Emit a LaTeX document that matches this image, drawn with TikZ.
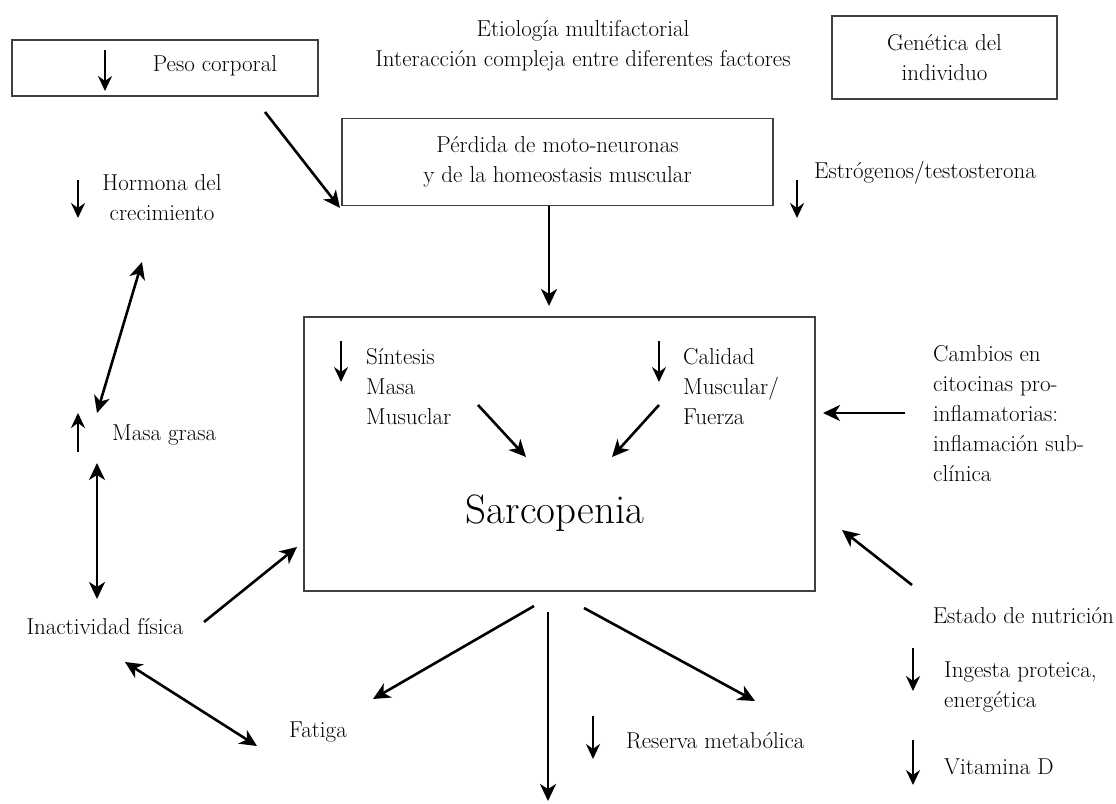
\documentclass[tikz,border=0pt]{standalone}
\usetikzlibrary{arrows.meta}
\begin{document}
\begin{tikzpicture}[x=1pt,y=-1pt,
  txt/.style={inner sep=0pt,font=\fontsize{23}{30}\selectfont,text=black},
  box/.style={draw=black!75,line width=1.8pt,inner sep=0pt},
  arr/.style={line width=2.6pt,-{Stealth[length=17pt,width=16pt,inset=5pt]}},
  darr/.style={line width=2.6pt,{Stealth[length=17pt,width=16pt,inset=5pt]}-{Stealth[length=17pt,width=16pt,inset=5pt]}},
  sarr/.style={line width=2.4pt,-{Stealth[length=15pt,width=14pt,inset=5pt]}}]
\useasboundingbox (0,0) rectangle (1116,803);
\fill[white] (0,0) rectangle (1116,803);

% boxes
\node[box,minimum width=306pt,minimum height=56pt] (peso) at (165,68) {};
\node[box,minimum width=225pt,minimum height=83pt,txt,align=center] (genet) at (944.5,57.5) {Genética del\\individuo};
\node[box,minimum width=431pt,minimum height=87pt,txt,align=center] (perdida) at (557.5,162) {Pérdida de moto-neuronas\\y de la homeostasis muscular};
\node[box,minimum width=511pt,minimum height=274pt] (sarc) at (559.5,454) {};

% texts
\node[txt] (pesot) at (215,66) {Peso corporal};
\node[txt,align=center] (etio) at (583,46) {Etiología multifactorial\\Interacción compleja entre diferentes factores};
\node[txt] (estr) at (925,173) {Estrógenos/testosterona};
\node[txt,align=center] (horm) at (162,198) {Hormona del\\crecimiento};
\node[txt,anchor=west] (masa) at (112,435) {Masa grasa};
\node[txt] (inact) at (105,627) {Inactividad física};
\node[txt] (fatiga) at (318,732) {Fatiga};
\node[txt,anchor=west] (reserva) at (626,741) {Reserva metabólica};
\node[txt,anchor=east] (estado) at (1114,616) {Estado de nutrición};
\node[txt,anchor=west,align=left] (ingesta) at (944,687) {Ingesta proteica,\\energética};
\node[txt,anchor=west] (vitd) at (944,767) {Vitamina D};
\node[txt,anchor=west,align=left] (cambios) at (933,414) {Cambios en\\citocinas pro-\\inflamatorias:\\inflamación sub-\\clínica};
\node[txt,anchor=west,align=left] (sint) at (366,387) {Síntesis\\Masa\\Musuclar};
\node[txt,anchor=west,align=left] (cal) at (683,387) {Calidad\\Muscular/\\Fuerza};
\node[txt,font=\fontsize{41}{45}\selectfont] (sarct) at (555,513) {Sarcopenia};

% small trend arrows
\draw[sarr] (105,50) -- (105,91);
\draw[sarr] (78,180) -- (78,218);
\draw[sarr] (797,180) -- (797,218);
\draw[sarr] (78,452) -- (78,413);
\draw[sarr] (341,341) -- (341,382);
\draw[sarr] (659,341) -- (659,382);
\draw[sarr] (593,716) -- (593,759);
\draw[sarr] (913,648) -- (913,691);
\draw[sarr] (913,740) -- (913,785);

% connectors
\coordinate (pesoA) at (265,112);
\coordinate (perdA) at (340,208);
\draw[arr] (pesoA) -- (perdA);
\draw[arr] (perdida.south -| 549,0) -- (549,306);
\draw[darr] (142,262) -- (97,413);
\draw[darr] (97,463) -- (97,599);
\draw[arr] (204,622) -- (297,547);
\draw[darr] (125,662) -- (257,746);
\draw[arr] (534,606) -- (373,699);
\draw[arr] (548,612) -- (548,801);
\draw[arr] (584,608) -- (755,701);
\draw[arr] (912,585) -- (842,530);
\draw[arr] (905,413) -- (823,413);
\draw[arr] (478,405) -- (526,457);
\draw[arr] (659,405) -- (612,457);
\end{tikzpicture}
\end{document}
